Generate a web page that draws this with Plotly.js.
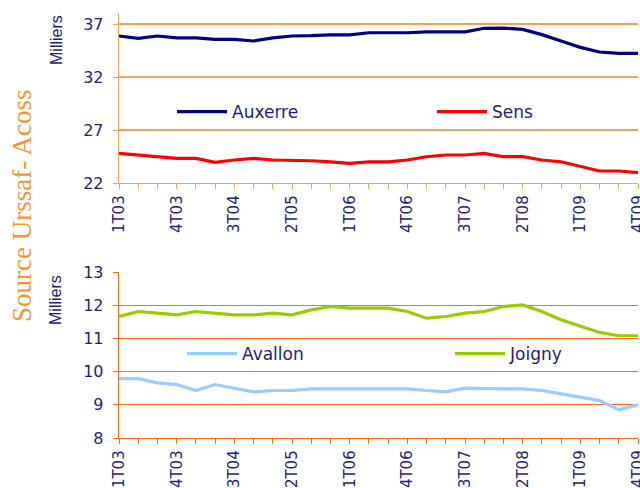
<!DOCTYPE html>
<html>
<head>
<meta charset="utf-8">
<script src="https://cdn.plot.ly/plotly-3.0.1.min.js"></script>
<style>html,body{margin:0;padding:0;background:#fff;}#chart{width:640px;height:488px;}</style>
</head>
<body>
<div id="chart"></div>
<script>
const quarters = ['1T03','2T03','3T03','4T03','1T04','2T04','3T04','4T04',
  '1T05','2T05','3T05','4T05','1T06','2T06','3T06','4T06',
  '1T07','2T07','3T07','4T07','1T08','2T08','3T08','4T08',
  '1T09','2T09','3T09','4T09'];
const tickLabels = ['1T03','4T03','3T04','2T05','1T06','4T06','3T07','2T08','1T09','4T09'];

const auxerre = [35.87,35.65,35.87,35.7,35.7,35.55,35.55,35.4,35.7,35.87,35.9,
  35.98,35.98,36.18,36.18,36.18,36.27,36.27,36.27,36.6,36.62,36.5,36.0,35.4,34.8,34.36,34.23,34.23];
const sens = [24.8,24.64,24.48,24.33,24.33,23.95,24.17,24.33,24.17,24.17,24.1,
  24.0,23.86,24.0,24.0,24.17,24.48,24.64,24.64,24.8,24.48,24.48,24.17,24.0,23.54,23.13,23.13,22.97];
const joigny = [11.66,11.81,11.76,11.71,11.81,11.76,11.71,11.71,11.76,11.71,11.86,
  11.96,11.91,11.91,11.91,11.81,11.61,11.66,11.76,11.81,11.96,12.01,11.81,11.56,11.36,11.18,11.08,11.08];
const avallon = [9.79,9.79,9.66,9.61,9.43,9.61,9.5,9.39,9.43,9.43,9.48,
  9.48,9.48,9.48,9.48,9.48,9.43,9.39,9.5,9.48,9.48,9.48,9.43,9.33,9.23,9.13,8.85,9.0];

const W = 640, H = 488, L = 119, R = 2;
const px = p => (p - L) / (W - L - R);
const py = p => 1 - p / H;

const navy = '#1c1c82';
const orangeTop = '#f7a05a';
const orangeBot = '#ff6a10';
const tickText = quarters.map(q => tickLabels.includes(q) ? q : '');

function line(name, y, color, xa, ya, leg) {
  return {type:'scatter', mode:'lines', name, x: quarters, y,
    xaxis: xa, yaxis: ya, legend: leg,
    line:{color, width:3.2, shape:'linear'}};
}

const data = [
  line('Auxerre', auxerre, '#000080', 'x', 'y', 'legend'),
  line('Sens', sens, '#ff0000', 'x', 'y', 'legend2'),
  line('Avallon', avallon, '#99ccff', 'x2', 'y2', 'legend3'),
  line('Joigny', joigny, '#99cc00', 'x2', 'y2', 'legend4')
];

function xax(color, anchor) {
  return {type:'category', categoryorder:'array', categoryarray: quarters,
    range:[0, quarters.length - 1], anchor,
    tickmode:'array', tickvals: quarters, ticktext: tickText, tickangle:-90,
    ticks:'outside', ticklen:5, tickcolor: color, tickwidth:1,
    showline:true, linecolor: color, linewidth:1.3, showgrid:false, zeroline:false,
    tickfont:{family:'DejaVu Sans', size:15, color: navy}};
}
function yax(range, vals, color, domain, anchor) {
  return {range, domain, anchor, tickmode:'array', tickvals: vals,
    ticks:'outside', ticklen:5, tickcolor: color, tickwidth:1,
    showline:true, linecolor: color, linewidth:1.3,
    showgrid:true, gridcolor: color, gridwidth:1.2, zeroline:false,
    ticklabelstandoff: 6,
    tickfont:{family:'DejaVu Sans', size:16, color: navy}};
}
function leg(xp, yp) {
  return {x: px(xp), y: py(yp), xanchor:'left', yanchor:'middle', orientation:'h',
    bgcolor:'rgba(0,0,0,0)', borderwidth:0, itemwidth:50,
    font:{family:'DejaVu Sans', size:17, color: navy}};
}

const layout = {
  width: W, height: H,
  margin:{l:L, r:R, t:0, b:0},
  paper_bgcolor:'#ffffff', plot_bgcolor:'#ffffff',
  showlegend:true,
  xaxis: xax(orangeTop, 'y'),
  yaxis: yax([22, 38.07], [22,27,32,37], orangeTop, [py(183), py(12.7)], 'x'),
  xaxis2: xax(orangeBot, 'y2'),
  yaxis2: yax([8, 13], [8,9,10,11,12,13], orangeBot, [py(438), py(272)], 'x2'),
  legend: leg(172, 112),
  legend2: leg(432, 112),
  legend3: leg(182, 354),
  legend4: leg(450, 354),
  annotations: [
    {text:'Milliers', xref:'paper', yref:'paper', x: px(57), y: py(40), textangle:-90,
      showarrow:false, xanchor:'center', yanchor:'middle',
      font:{family:'Liberation Sans', size:16, color: navy}},
    {text:'Milliers', xref:'paper', yref:'paper', x: px(55), y: py(300), textangle:-90,
      showarrow:false, xanchor:'center', yanchor:'middle',
      font:{family:'Liberation Sans', size:16, color: navy}},
    {text:'Source Urssaf- Acoss', xref:'paper', yref:'paper', x: px(22), y: py(206), textangle:-90,
      showarrow:false, xanchor:'center', yanchor:'middle',
      font:{family:'Liberation Serif', size:27, color:'#f7952c'}}
  ]
};

Plotly.newPlot('chart', data, layout, {displayModeBar:false, staticPlot:true});
</script>
</body>
</html>
